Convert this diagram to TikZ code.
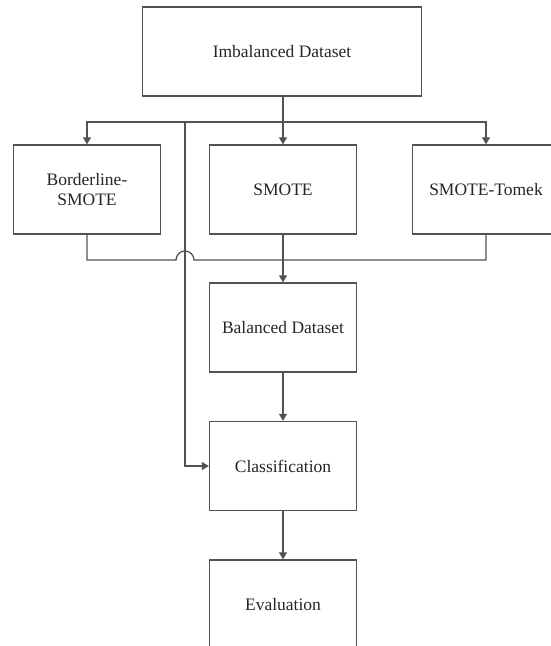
\documentclass[tikz,border=0pt]{standalone}
\usepackage{fontspec}
\setmainfont{Liberation Serif}
\usetikzlibrary{arrows.meta}

\begin{document}
\begin{tikzpicture}[x=1pt,y=1pt,
    stepbox/.style={draw=black!68,line width=1.3pt,fill=white,align=center,
        minimum width=147pt,minimum height=89pt,inner sep=2pt,text=black!85,
        font=\fontsize{17.5}{20}\selectfont},
    link/.style={draw=black!68,line width=1.3pt},
    arr/.style={link,-{Triangle[width=8pt,length=7pt]}}]
\useasboundingbox (0,0) rectangle (550,646);
% boxes
\node[stepbox,minimum width=279pt] (imb) at (282,594.5) {Imbalanced Dataset};
\node[stepbox] (bsm) at (87,456.5) {Borderline-\\SMOTE};
\node[stepbox] (smote) at (283,456.5) {SMOTE};
\node[stepbox] (tomek) at (486,456.5) {SMOTE-Tomek};
\node[stepbox] (bal) at (283,318.5) {Balanced Dataset};
\node[stepbox] (cls) at (283,180) {Classification};
\node[stepbox] (eva) at (283,41.5) {Evaluation};
% branch and merge points
\coordinate (br) at (283,524);
\coordinate (byp) at (185,524);
\coordinate (hopL) at (176,386);
% arrows
\draw[link] (imb.south -| br) -- (br);
\draw[arr] (br) -- (smote);
\draw[arr] (br) -| (bsm.north);
\draw[arr] (br) -| (tomek.north);
\draw[arr] (byp) |- (cls.west);
\draw[link] (bsm.south) |- (hopL) arc[start angle=180,end angle=0,radius=9] -| (tomek.south);
\draw[arr] (smote) -- (bal);
\draw[arr] (bal) -- (cls);
\draw[arr] (cls) -- (eva);
\end{tikzpicture}
\end{document}
